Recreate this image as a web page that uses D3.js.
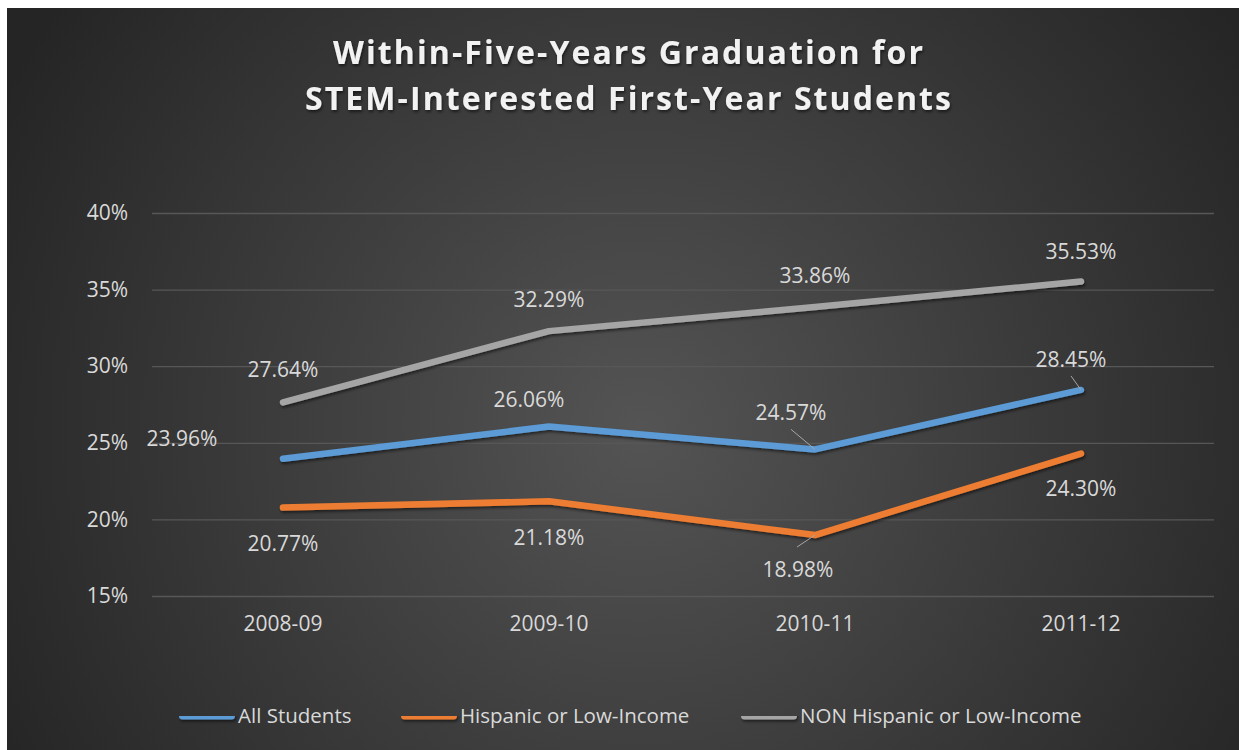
<title>STEM graduation</title>
<style>
  body { margin:0; background:#fff; }
  text { font-family: "Open Sans", "Noto Sans", sans-serif; }
</style>
<body></body>
<script src="https://d3js.org/d3.v7.min.js"></script>
<script>
// data
const years = ['2008-09', '2009-10', '2010-11', '2011-12'];
const allStudents = [23.96, 26.06, 24.57, 28.45];
const hispanicLow = [20.77, 21.18, 18.98, 24.30];
const nonHispanicLow = [27.64, 32.29, 33.86, 35.53];
const seriesNames = ['All Students', 'Hispanic or Low-Income', 'NON Hispanic or Low-Income'];
const yTicks = [15, 20, 25, 30, 35, 40];

// label placement (offsets from each point), kept apart from data
const labelOffsets = [
  [[-101, -20], [-20, -27], [-24, -37], [-10, -30]],
  [[0, 36], [0, 36], [-17, 35], [0, 35]],
  [[0, -33], [0, -31], [0, -31], [0, -30]]
];
// leader lines: [series, index, x1, y1] relative to the point
const leaders = [[0, 2, -24, -20], [0, 3, -10, -14], [1, 2, -18, 12]];

const W = 1239, H = 750;
const colors = ['#5b9bd5', '#ed7d31', '#a5a5a5'];
const series = [allStudents, hispanicLow, nonHispanicLow];

const svg = d3.select('body').append('svg')
    .attr('width', W)
    .attr('height', H)

const defs = svg.append('defs');
const grad = defs.append('radialGradient')
    .attr('id', 'bg')
    .attr('gradientUnits', 'userSpaceOnUse')
    .attr('cx', 640).attr('cy', 430).attr('r', 720);
grad.append('stop').attr('offset', '0%').attr('stop-color', '#545454');
grad.append('stop').attr('offset', '100%').attr('stop-color', '#252525');

const shadow = defs.append('filter').attr('id', 'shadow')
    .attr('filterUnits', 'userSpaceOnUse')
    .attr('x', 0).attr('y', 0).attr('width', W).attr('height', H);
shadow.append('feDropShadow')
    .attr('dx', 1).attr('dy', 2).attr('stdDeviation', 1.5)
    .attr('flood-color', '#000').attr('flood-opacity', 0.55);

svg.append('rect')
    .attr('x', 7).attr('y', 8)
    .attr('width', W - 7).attr('height', H - 8)
    .attr('fill', 'url(#bg)');

// title
const title = svg.append('text')
    .attr('text-anchor', 'middle')
    .attr('fill', '#f2f2f2')
    .attr('font-weight', 'bold')
    .attr('font-size', 32)
    .attr('filter', 'url(#shadow)');
title.append('tspan').attr('x', 628).attr('y', 64)
    .attr('textLength', 590).attr('lengthAdjust', 'spacing')
    .text('Within-Five-Years Graduation for');
title.append('tspan').attr('x', 628).attr('y', 110)
    .attr('textLength', 646).attr('lengthAdjust', 'spacing')
    .text('STEM-Interested First-Year Students');

xscale = d3.scaleBand().domain(years).range([150, 1214])
yscale = d3.scaleLinear().domain([15, 40]).range([596, 213])

const cx = d => xscale(d) + xscale.bandwidth() / 2;

// gridlines + y labels
const yaxis = d3.axisLeft(yscale).tickValues(yTicks)
    .tickSize(-(1214 - 152)).tickPadding(24)
    .tickFormat(d => d + '%');
const gy = svg.append('g').attr('transform', 'translate(152,0)').call(yaxis);
gy.select('.domain').remove();
gy.selectAll('line').attr('stroke', '#575757').attr('stroke-width', 1.3);
gy.selectAll('text').attr('fill', '#d9d9d9').attr('font-size', 21)
    .style('font-family', '"Open Sans", sans-serif');

// x labels
const xaxis = d3.axisBottom(xscale).tickSize(0).tickPadding(20);
const gx = svg.append('g').attr('transform', 'translate(0,596)').call(xaxis);
gx.select('.domain').remove();
gx.selectAll('text').attr('fill', '#d9d9d9').attr('font-size', 21)
    .style('font-family', '"Open Sans", sans-serif');

// lines
const line = d3.line().x((d, i) => cx(years[i])).y(d => yscale(d));
svg.selectAll('path.series')
    .data(series)
    .join('path')
    .attr('class', 'series')
    .attr('d', line)
    .attr('fill', 'none')
    .attr('stroke', (d, i) => colors[i])
    .attr('stroke-width', 6.5)
    .attr('stroke-linecap', 'round')
    .attr('stroke-linejoin', 'round')
    .attr('filter', 'url(#shadow)');

// leader lines
svg.selectAll('line.leader')
    .data(leaders)
    .join('line')
    .attr('class', 'leader')
    .attr('x1', d => cx(years[d[1]]) + d[2])
    .attr('y1', d => yscale(series[d[0]][d[1]]) + d[3])
    .attr('x2', d => cx(years[d[1]]))
    .attr('y2', d => yscale(series[d[0]][d[1]]))
    .attr('stroke', '#a6a6a6')
    .attr('stroke-width', 1);

// data labels
series.forEach((s, si) => {
  svg.selectAll('text.lbl' + si)
    .data(s)
    .join('text')
    .attr('class', 'lbl' + si)
    .attr('x', (d, i) => cx(years[i]) + labelOffsets[si][i][0])
    .attr('y', (d, i) => yscale(d) + labelOffsets[si][i][1])
    .attr('dy', '0.35em')
    .attr('text-anchor', 'middle')
    .attr('fill', '#d9d9d9')
    .attr('font-size', 21)
    .text(d => d.toFixed(2) + '%');
});

// legend
const legendX = [179, 401, 741];
const lg = svg.selectAll('g.legend')
    .data(seriesNames)
    .join('g')
    .attr('class', 'legend')
    .attr('transform', (d, i) => `translate(${legendX[i]},716)`);
lg.append('rect')
    .attr('x', 0).attr('y', -3.5)
    .attr('width', 56).attr('height', 7)
    .attr('rx', 3.5)
    .attr('fill', (d, i) => colors[i])
    .attr('filter', 'url(#shadow)');
lg.append('text')
    .attr('x', 59)
    .attr('dy', '0.35em')
    .attr('fill', '#d9d9d9')
    .attr('font-size', 20.5)
    .text(d => d);
</script>
